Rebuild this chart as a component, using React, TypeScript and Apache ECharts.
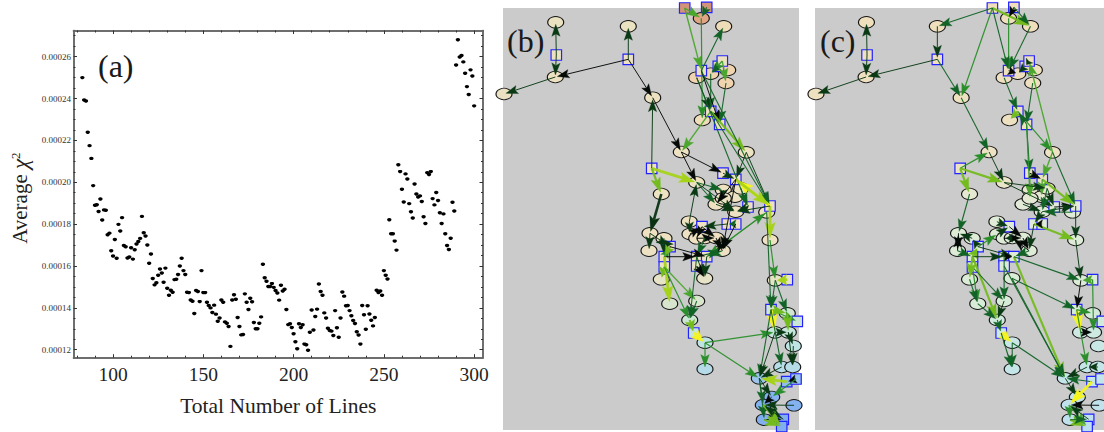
import React, { useEffect, useRef } from "react";
import * as echarts from "echarts";

// ---------- panel (a): x = 83..300, average chi^2 in units of 1e-5
const firstLineCount = 83;
const chiE5 = [
  25.0, 23.93, 23.88, 22.39, 21.75, 21.14, 19.84, 18.9, 18.93, 18.6, 19.2, 18.2, 18.68, 18.66, 17.49, 17.57, 16.73, 16.48,
  17.27, 16.37, 17.99, 17.67, 18.31, 16.98, 16.92, 16.38, 16.43, 16.87, 16.33, 16.78, 17.05, 17.17, 17.32, 18.37, 17.59,
  17.43, 17.0, 16.13, 16.57, 15.4, 15.1, 15.2, 15.56, 15.86, 15.67, 15.22, 15.9, 14.94, 14.6, 14.84, 14.75, 15.35, 15.37,
  15.59, 16.0, 16.37, 15.78, 15.59, 14.75, 14.73, 14.38, 14.32, 13.73, 14.83, 14.78, 14.3, 15.78, 14.73, 14.73, 14.27,
  14.11, 14.0, 13.78, 14.13, 13.7, 13.36, 13.52, 14.38, 14.27, 13.33, 13.27, 13.11, 12.16, 14.38, 14.63, 14.41, 13.54,
  13.11, 12.71, 12.73, 14.67, 14.27, 13.92, 14.46, 14.29, 13.3, 13.0, 13.0, 13.27, 13.57, 16.08, 15.44, 15.27, 15.02,
  15.02, 15.16, 14.98, 14.83, 14.71, 14.37, 15.08, 14.81, 14.89, 13.92, 13.2, 13.24, 13.06, 12.76, 12.38, 12.05, 13.24,
  13.06, 13.19, 12.27, 12.24, 11.98, 12.84, 13.9, 12.94, 13.59, 13.94, 15.14, 14.78, 14.6, 13.76, 13.52, 13.03, 12.92,
  12.89, 12.68, 13.87, 13.05, 12.6, 13.52, 14.76, 14.56, 14.1, 14.11, 13.87, 13.62, 13.4, 13.25, 12.86, 12.7, 12.27,
  14.11, 13.67, 12.98, 14.1, 13.71, 13.41, 13.14, 13.54, 14.84, 14.73, 14.81, 14.6, 15.78, 15.56, 15.38, 18.21, 17.54,
  17.54, 17.19, 16.76, 20.84, 20.51, 19.67, 19.06, 20.4, 20.16, 18.98, 18.59, 18.29, 19.92, 19.44, 19.3, 19.35, 19.08,
  18.35, 18.03, 20.46, 20.37, 20.51, 19.22, 18.92, 19.51, 19.13, 18.54, 18.03, 18.49, 17.54, 16.98, 16.79, 17.33, 19.05,
  18.63, 25.6, 26.81, 25.98, 26.06, 25.75, 25.21, 24.57, 24.19, 25.37, 25.08, 23.65,
];
const xMajor = [100, 150, 200, 250, 300];
const xMinor = [80, 90, 110, 120, 130, 140, 160, 170, 180, 190, 210, 220, 230, 240, 260, 270, 280, 290];
const yMajor = [0.00012, 0.00014, 0.00016, 0.00018, 0.0002, 0.00022, 0.00024, 0.00026];
const yMinor = [
  0.000125, 0.00013, 0.000135, 0.000145, 0.00015, 0.000155, 0.000165, 0.00017, 0.000175, 0.000185, 0.00019, 0.000195,
  0.000205, 0.00021, 0.000215, 0.000225, 0.00023, 0.000235, 0.000245, 0.00025, 0.000255, 0.000265, 0.00027,
];

// ---------- panels (b), (c): shared node layout, in panel units
const ellipses: Record<string, number[]> = {
  E1: [555.7, 22.3], E2: [628.3, 26.3], E3: [555.3, 77], E4: [504, 94], E5: [652.7, 97.7], E6: [701.3, 18.3],
  E7: [723.7, 26.3], E8: [696.7, 77.7], E9: [710.7, 73.7], E10: [727.7, 70], E11: [726, 83], E12: [702.3, 120],
  E13: [681.3, 152], E14: [746.3, 152.3], E15: [696.7, 182.5], E16: [661.3, 194], E17: [689.3, 221.7], E18: [690, 234],
  E19: [650, 233.3], E20: [664, 238.3], E21: [649, 250.7], E22: [696.7, 238.3], E23: [705, 238], E24: [716, 238],
  E25: [722.3, 250.7], E26: [723.3, 190], E27: [735, 196.7], E28: [740.7, 188.3], E29: [716, 204.3], E30: [723.3, 198.3],
  E31: [735.7, 211.7], E32: [766.7, 212.3], E33: [770, 240], E34: [661.3, 279.3], E35: [704.7, 278.3], E36: [669.7, 303.7],
  E37: [696.7, 301], E38: [689.7, 320], E39: [705, 342.7], E40: [705, 369], E41: [775.3, 280.3], E42: [787.3, 313.3],
  E43: [775, 332.3], E44: [788.3, 332.3], E45: [793.3, 346], E46: [781.7, 367], E47: [792.7, 367], E48: [759.3, 378.3],
  E49: [771.7, 397], E50: [763.3, 405], E51: [794, 405.3], E52: [764.3, 419.7],
};
const squares: Record<string, number[]> = {
  S1: [556.3, 55], S2: [628.3, 59.3], S3: [684.7, 8], S4: [706.7, 7.3], S5: [701.3, 70.7], S6: [718.3, 66.3],
  S7: [722.3, 61], S8: [710.7, 111.3], S9: [719.7, 124.3], S10: [651.7, 168.3], S11: [723, 173.2], S12: [735.8, 179.3],
  S13: [748, 207], S14: [770, 206], S15: [702, 226.7], S16: [727.3, 224], S17: [735.7, 224], S18: [670, 246.7],
  S19: [664.3, 256.7], S20: [664.3, 267], S21: [696.7, 256.7], S22: [706.7, 256.7], S23: [696.7, 266], S24: [693.7, 333],
  S25: [787.3, 279.7], S26: [771, 309.7], S27: [797.3, 321.3], S28: [786.7, 381.7], S29: [796, 379], S30: [783.3, 419.3],
  S31: [781.7, 426.7],
};

// [from, to, strength 0 (black) .. 7 (yellow)]
const edgesB: [string, string, number][] = [
  ["S1", "E1", 1], ["S1", "E3", 1], ["S2", "E3", 0], ["S2", "E2", 1], ["E3", "E4", 1], ["S2", "E5", 0], ["E5", "E13", 0],
  ["S10", "E5", 1], ["E13", "E15", 0], ["E13", "S11", 0], ["S10", "E15", 6], ["S10", "E16", 5], ["E16", "E19", 8],
  ["E14", "S12", 1], ["E14", "S14", 1], ["S3", "S5", 4], ["S3", "E6", 4], ["S4", "E6", 2], ["E6", "E12", 3], ["S5", "E7", 2],
  ["S7", "E9", 3], ["S6", "E9", 2], ["S7", "E11", 4], ["E11", "S9", 2], ["E9", "S8", 2], ["E8", "S8", 1], ["S8", "E13", 4],
  ["S5", "S9", 0], ["S8", "E14", 5], ["E8", "S13", 2], ["S5", "S14", 2], ["S8", "S14", 2], ["S11", "S12", 1], ["S14", "S12", 7],
  ["S12", "S14", 6], ["S14", "E33", 6], ["S22", "E32", 3], ["E32", "S22", 3], ["S12", "E25", 0], ["E15", "E26", 2],
  ["E15", "E31", 1], ["E15", "E29", 2], ["E26", "E30", 1], ["S12", "E29", 0], ["E29", "E31", 1], ["E28", "S13", 2],
  ["S13", "E31", 1], ["S14", "E31", 1], ["E17", "E15", 1], ["S16", "S15", 1], ["S17", "S16", 2], ["S15", "E24", 0],
  ["E24", "E25", 0], ["E18", "S15", 0], ["E17", "E18", 1], ["S15", "E22", 0], ["E22", "E24", 0], ["E23", "S21", 2],
  ["S21", "E25", 2], ["S17", "E25", 0], ["E25", "E24", 0], ["E25", "S22", 2], ["S18", "E20", 1], ["E20", "S19", 1], ["E19", "E21", 1],
  ["E19", "S18", 1], ["S19", "S18", 3], ["S18", "S19", 5], ["S19", "S21", 0], ["S18", "S22", 0], ["S21", "E35", 1],
  ["S22", "E35", 1], ["S23", "E35", 0], ["S20", "E34", 5], ["S19", "E36", 6], ["S20", "E38", 3], ["S20", "E37", 4],
  ["S21", "E38", 2], ["E37", "E38", 2], ["E38", "S24", 5], ["S24", "E39", 7], ["E39", "E40", 3], ["E39", "E43", 3],
  ["E39", "E48", 3], ["E33", "E41", 3], ["E32", "S26", 2], ["S25", "E41", 6], ["E41", "S26", 2], ["E41", "E42", 2],
  ["S26", "S27", 3], ["S26", "E42", 5], ["S26", "E43", 7], ["E42", "E44", 5], ["E43", "E44", 1], ["E44", "E45", 1],
  ["S26", "E46", 2], ["S26", "E48", 2], ["E43", "E48", 1], ["E44", "E47", 1], ["E45", "E47", 1], ["E46", "E48", 1],
  ["S29", "S28", 0], ["S28", "E48", 6], ["S29", "E49", 3], ["E48", "E50", 2], ["E48", "E52", 2], ["E48", "E49", 1],
  ["E49", "E50", 0], ["E50", "S30", 1], ["E51", "E50", 1], ["E52", "S30", 0], ["E50", "S31", 5], ["E52", "S31", 5], ["S30", "E50", 1],
];
const edgesC: [string, string, number][] = [
  ["S1", "E1", 1], ["S1", "E3", 1], ["S2", "E3", 1], ["E3", "E4", 1], ["S3", "E2", 2], ["E2", "S2", 1], ["S2", "E5", 2],
  ["S3", "E5", 3], ["E5", "E13", 2], ["E13", "E15", 1], ["S10", "E13", 3], ["S10", "E15", 5], ["S10", "E16", 5], ["E16", "E19", 2],
  ["S3", "E7", 5], ["S4", "E6", 0], ["S4", "E7", 2], ["E6", "S5", 3], ["S3", "S5", 2], ["E7", "S5", 2], ["E14", "S7", 4],
  ["S5", "E9", 0], ["S6", "E9", 1], ["S7", "S6", 1], ["E8", "S8", 2], ["E11", "S9", 2], ["S8", "E14", 3], ["S8", "E12", 5],
  ["S9", "S8", 2], ["S9", "S11", 2], ["E14", "S12", 4], ["E14", "S14", 2], ["S9", "E30", 3], ["E15", "S13", 1], ["S12", "S14", 5],
  ["S11", "E30", 4], ["S12", "E27", 4], ["S11", "S12", 0], ["E29", "E31", 1], ["S13", "S14", 0], ["E28", "S13", 1], ["E31", "S14", 1],
  ["E15", "E28", 1], ["E28", "E31", 2], ["S14", "E33", 1], ["E33", "E41", 1], ["S16", "E33", 5], ["S17", "S16", 0], ["E32", "E31", 2],
  ["E31", "S16", 1], ["S16", "E25", 1], ["E17", "S15", 1], ["E18", "S15", 1], ["S15", "E24", 0], ["E22", "E24", 0], ["E24", "E25", 0],
  ["E25", "E23", 0], ["E23", "E22", 1], ["S18", "E18", 3], ["E19", "E21", 0], ["E21", "E19", 0], ["E20", "E19", 1], ["S18", "E20", 1],
  ["E21", "S19", 2], ["S19", "S18", 5], ["S18", "S22", 1], ["S21", "S22", 0], ["E25", "S22", 2], ["S19", "S21", 1], ["S22", "E48", 5],
  ["E35", "E48", 2], ["S23", "E48", 2], ["S22", "E41", 2], ["E35", "S26", 2], ["S19", "E38", 5], ["S20", "E36", 3], ["S20", "E37", 2],
  ["S19", "E34", 5], ["E34", "E36", 2], ["E36", "E38", 2], ["S21", "E37", 2], ["E37", "E38", 1], ["E38", "S24", 2], ["S24", "E39", 7],
  ["S24", "E40", 2], ["E39", "E40", 2], ["E39", "E48", 2], ["E41", "S26", 0], ["S25", "E41", 4], ["S25", "E44", 3], ["S26", "E43", 7],
  ["S26", "E46", 3], ["S26", "E42", 3], ["E43", "E44", 0], ["E46", "E48", 1], ["S28", "E48", 2], ["E48", "E49", 1], ["S28", "E50", 7],
  ["E47", "E46", 1], ["E50", "E52", 3], ["E50", "S31", 4], ["E52", "S31", 5], ["E51", "E50", 0], ["S30", "E50", 1], ["E52", "S30", 2],
];

const edgeColors = ["#050a06", "#0a3a14", "#116326", "#2a8f2a", "#4aa62c", "#74bb1e", "#a5d31a", "#f6f41e", "#083212"];
const edgeWidths = [1, 1, 1.1, 1.2, 1.4, 2.2, 2.8, 3, 2.6];
const fillStopsB: [number, string][] = [
  [0, "#ebe2c2"], [240, "#eee2c2"], [285, "#e6e3c8"], [315, "#cfe6d2"], [345, "#bfe4e4"], [370, "#b5dbe8"], [385, "#88b4ee"], [430, "#80aef0"],
];
const fillStopsC: [number, string][] = [
  [0, "#f0dfbc"], [175, "#ece2c4"], [205, "#e2ebd8"], [300, "#d8ebd6"], [345, "#c8e8e6"], [430, "#bee0ee"],
];
const hotB: Record<string, string> = { S3: "#d2937a", S4: "#d2937a", E6: "#e0a585", E7: "#eedcb8", E8: "#f0d4b0", E9: "#f0d4b0", E10: "#f0d4b0", E11: "#f0d4b0", E12: "#efdcb8" };

function fillFor(stops: [number, string][], y: number) {
  for (let i = 1; i < stops.length; i++) {
    if (y <= stops[i][0]) {
      const t = (y - stops[i - 1][0]) / (stops[i][0] - stops[i - 1][0]);
      return echarts.color.lerp(t, [stops[i - 1][1], stops[i][1]]) as string;
    }
  }
  return stops[stops.length - 1][1];
}

const allNodes = { ...ellipses, ...squares };

function renderEdge(_: any, api: any) {
  const a = api.coord([api.value(0), api.value(1)]);
  const b = api.coord([api.value(2), api.value(3)]);
  const lvl = api.value(4) as number;
  const w = edgeWidths[lvl];
  const dx = b[0] - a[0];
  const dy = b[1] - a[1];
  const len = Math.hypot(dx, dy) || 1;
  const ux = dx / len;
  const uy = dy / len;
  const L = Math.min(10 + w * 2, len * 0.8);
  const H = 3.6 + w * 0.6;
  const tip = [b[0] - ux * 2, b[1] - uy * 2];
  const back = [tip[0] - ux * L, tip[1] - uy * L];
  const notch = [tip[0] - ux * L * 0.8, tip[1] - uy * L * 0.8];
  const color = edgeColors[lvl];
  return {
    type: "group",
    children: [
      { type: "line", shape: { x1: a[0], y1: a[1], x2: notch[0], y2: notch[1] }, style: { stroke: color, lineWidth: w, opacity: 0.95 } },
      {
        type: "polygon",
        shape: { points: [tip, [back[0] - uy * H, back[1] + ux * H], notch, [back[0] + uy * H, back[1] - ux * H]] },
        style: { fill: color, stroke: color, lineWidth: 0.3 },
      },
    ],
  };
}

function panelSeries(grid: number, stops: [number, string][], hot: Record<string, string>, edges: [string, string, number][]) {
  const axis = { xAxisIndex: 4 + grid, yAxisIndex: 4 + grid };
  const fill = (id: string, y: number) => hot[id] || fillFor(stops, y);
  return [
    {
      type: "scatter", ...axis, clip: false, z: 2, symbol: "circle", symbolSize: [16, 11.5], silent: true,
      data: Object.entries(ellipses).map(([id, p]) => ({ value: p, itemStyle: { color: fill(id, p[1]) } })),
      itemStyle: { borderColor: "#151515", borderWidth: 1, opacity: 1 },
    },
    {
      type: "scatter", ...axis, clip: false, z: 3, symbol: "rect", symbolSize: 10.5, silent: true,
      data: Object.entries(squares).map(([id, p]) => ({ value: p, itemStyle: { color: fill(id, p[1]) } })),
      itemStyle: { borderColor: "#2222ff", borderWidth: 1.2, opacity: 1 },
    },
    {
      type: "custom", ...axis, clip: false, z: 4, silent: true, renderItem: renderEdge,
      encode: { x: [0, 2], y: [1, 3] },
      data: edges.map(([f, t, l]) => [...allNodes[f], ...allNodes[t], l]),
    },
  ];
}

const SERIF = "'Liberation Serif', 'Times New Roman', serif";
const X_RANGE = { min: 78.1, max: 304.9 };
const Y_RANGE = { min: 0.0001162, max: 0.0002725 };
const frame = { show: true, onZero: false, lineStyle: { color: "#666", width: 1.5 } };
const noLabel = { show: false };

function xAx(position: string, ticks: number[], len: number, label: any, extra: any = {}) {
  return {
    type: "value", gridIndex: 0, position, ...X_RANGE, axisLine: frame, splitLine: { show: false }, axisLabel: label,
    axisTick: { show: true, inside: true, length: len, customValues: ticks, lineStyle: { color: "#333", width: 1 } }, ...extra,
  };
}
function yAx(position: string, ticks: number[], len: number, label: any, extra: any = {}) {
  return {
    type: "value", gridIndex: 0, position, ...Y_RANGE, axisLine: frame, splitLine: { show: false }, axisLabel: label,
    axisTick: { show: true, inside: true, length: len, customValues: ticks, lineStyle: { color: "#333", width: 1 } }, ...extra,
  };
}
const hiddenX = (g: number) => ({ type: "value", gridIndex: g, show: false, min: 503, max: 799 });
const hiddenY = (g: number) => ({ type: "value", gridIndex: g, show: false, min: 8, max: 430, inverse: true });
const panelLabel = (text: string, x: number, y: number) => ({
  type: "text", x, y, z: 20, style: { text, font: `32px ${SERIF}`, fill: "#1a1a1a" },
});

export default function App() {
  const ref = useRef<HTMLDivElement>(null);
  useEffect(() => {
    const chart = echarts.init(ref.current!, undefined, { renderer: "svg" });
    chart.setOption({
      animation: false,
      backgroundColor: "#fff",
      grid: [
        { left: 73.5, top: 30.5, width: 409.5, height: 327.2 },
        { left: 503, top: 8, width: 296, height: 422, show: true, backgroundColor: "#cbcbcb", borderWidth: 0 },
        { left: 815, top: 8, width: 296, height: 422, show: true, backgroundColor: "#cbcbcb", borderWidth: 0 },
      ],
      xAxis: [
        xAx("bottom", xMajor, 3.5, {
          show: true, customValues: xMajor, margin: 7, fontFamily: SERIF, fontSize: 19.5, color: "#222",
        }, {
          name: "Total Number of Lines", nameLocation: "middle", nameGap: 37,
          nameTextStyle: { fontFamily: SERIF, fontSize: 21.5, color: "#222" },
        }),
        xAx("bottom", xMinor, 2, noLabel),
        xAx("top", xMajor, 3.5, noLabel),
        xAx("top", xMinor, 2, noLabel),
        hiddenX(1),
        hiddenX(2),
      ],
      yAxis: [
        yAx("left", yMajor, 3.5, {
          show: true, customValues: yMajor, margin: 2.5, fontFamily: SERIF, fontSize: 9, color: "#333",
          formatter: (v: number) => v.toFixed(5),
        }, {
          name: "Average {c|χ}{s|2}", nameLocation: "middle", nameGap: 42,
          nameTextStyle: {
            fontFamily: SERIF, fontSize: 21, color: "#222", padding: [0, 8, 0, 0],
            rich: {
              c: { fontFamily: SERIF, fontSize: 23, fontStyle: "italic", color: "#222" },
              s: { fontFamily: SERIF, fontSize: 13, color: "#222", verticalAlign: "top", lineHeight: 22 },
            },
          },
        }),
        yAx("left", yMinor, 2, noLabel),
        yAx("right", yMajor, 3.5, noLabel),
        yAx("right", yMinor, 2, noLabel),
        hiddenY(1),
        hiddenY(2),
      ],
      graphic: [panelLabel("(a)", 98, 50), panelLabel("(b)", 507, 25), panelLabel("(c)", 820, 25)],
      series: [
        {
          type: "scatter", xAxisIndex: 0, yAxisIndex: 0, symbol: "circle", symbolSize: [4.4, 3.4], silent: true,
          itemStyle: { color: "#000", opacity: 1 },
          data: chiE5.map((v, i) => [firstLineCount + i, v * 1e-5]),
        },
        ...panelSeries(0, fillStopsB, hotB, edgesB),
        ...panelSeries(1, fillStopsC, {}, edgesC),
      ],
    });
    return () => chart.dispose();
  }, []);
  return <div ref={ref} style={{ position: "absolute", left: 0, top: 0, width: 1104, height: 432 }} />;
}
